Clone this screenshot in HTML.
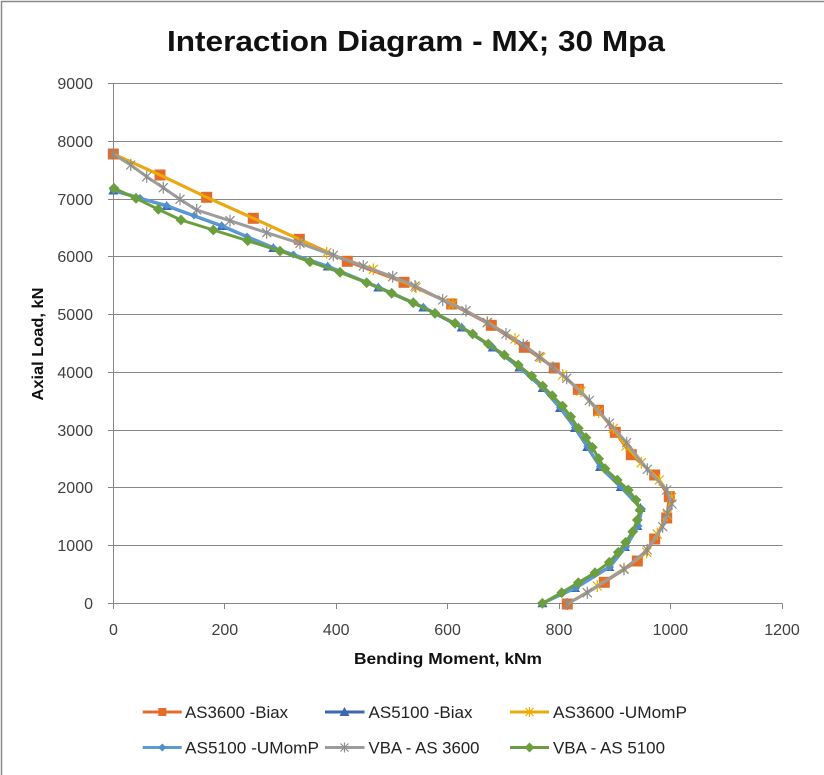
<!DOCTYPE html>
<html>
<head>
<meta charset="utf-8">
<style>
  html, body { margin:0; padding:0; background:#fff; }
  body { width:824px; height:775px; overflow:hidden; }
  svg { display:block; }
  text { font-family: "Liberation Sans", Arial, sans-serif; }
</style>
</head>
<body>
<svg width="824" height="775" viewBox="0 0 824 775" xmlns="http://www.w3.org/2000/svg">
  <defs>
    <marker id="mSq" markerUnits="userSpaceOnUse" markerWidth="12" markerHeight="12" viewBox="0 0 12 12" refX="6" refY="6">
      <rect x="0.5" y="0.5" width="11" height="11" fill="#E36C2B"/>
    </marker>
    <marker id="mTri" markerUnits="userSpaceOnUse" markerWidth="12" markerHeight="12" viewBox="0 0 12 12" refX="6" refY="6">
      <polygon points="6,1 11,10 1,10" fill="#3F66B0"/>
    </marker>
    <marker id="mStarG" markerUnits="userSpaceOnUse" markerWidth="14" markerHeight="14" viewBox="0 0 14 14" refX="7" refY="7">
      <path d="M2.5,2.5 L11.5,11.5 M11.5,2.5 L2.5,11.5 M7,1 L7,13" stroke="#EFAA00" stroke-width="1.2" fill="none"/>
    </marker>
    <marker id="mStarY" markerUnits="userSpaceOnUse" markerWidth="14" markerHeight="14" viewBox="0 0 14 14" refX="7" refY="7">
      <path d="M2.5,2.5 L11.5,11.5 M11.5,2.5 L2.5,11.5 M7,1 L7,13" stroke="#8C8C8C" stroke-width="1.2" fill="none"/>
    </marker>
    <marker id="mDiaB" markerUnits="userSpaceOnUse" markerWidth="12" markerHeight="12" viewBox="0 0 12 12" refX="6" refY="6">
      <polygon points="6,2 10,6 6,10 2,6" fill="#4F8FD0"/>
    </marker>
    <marker id="mDiaGr" markerUnits="userSpaceOnUse" markerWidth="12" markerHeight="12" viewBox="0 0 12 12" refX="6" refY="6">
      <polygon points="6,0.6 11.4,6 6,11.4 0.6,6" fill="#6A9E3F"/>
    </marker>
  </defs>

  <!-- border -->
  <rect x="1.5" y="1.5" width="840" height="800" fill="none" stroke="#8A8A8A" stroke-width="1.5"/>

  <!-- title -->
  <text x="416" y="51" text-anchor="middle" font-size="29" font-weight="bold" fill="#111" textLength="498" lengthAdjust="spacingAndGlyphs">Interaction Diagram - MX; 30 Mpa</text>

  <!-- gridlines -->
  <g stroke="#878787" stroke-width="1" fill="none">
    <line x1="108" y1="83.5" x2="782.5" y2="83.5"/>
    <line x1="108" y1="141.5" x2="782.5" y2="141.5"/>
    <line x1="108" y1="199.5" x2="782.5" y2="199.5"/>
    <line x1="108" y1="256.5" x2="782.5" y2="256.5"/>
    <line x1="108" y1="314.5" x2="782.5" y2="314.5"/>
    <line x1="108" y1="372.5" x2="782.5" y2="372.5"/>
    <line x1="108" y1="430.5" x2="782.5" y2="430.5"/>
    <line x1="108" y1="487.5" x2="782.5" y2="487.5"/>
    <line x1="108" y1="545.5" x2="782.5" y2="545.5"/>
    <line x1="108" y1="603.5" x2="782.5" y2="603.5"/>
    <line x1="113.5" y1="83.5" x2="113.5" y2="603.5"/>
    <line x1="113.5" y1="603.5" x2="113.5" y2="609"/>
    <line x1="224.5" y1="603.5" x2="224.5" y2="609"/>
    <line x1="336.5" y1="603.5" x2="336.5" y2="609"/>
    <line x1="447.5" y1="603.5" x2="447.5" y2="609"/>
    <line x1="559.5" y1="603.5" x2="559.5" y2="609"/>
    <line x1="670.5" y1="603.5" x2="670.5" y2="609"/>
    <line x1="782.5" y1="603.5" x2="782.5" y2="609"/>
  </g>

  <!-- y tick labels -->
  <g font-size="16" fill="#404040" text-anchor="end">
    <text x="93" y="89">9000</text>
    <text x="93" y="147">8000</text>
    <text x="93" y="205">7000</text>
    <text x="93" y="262">6000</text>
    <text x="93" y="320">5000</text>
    <text x="93" y="378">4000</text>
    <text x="93" y="436">3000</text>
    <text x="93" y="493">2000</text>
    <text x="93" y="551">1000</text>
    <text x="93" y="609">0</text>
  </g>

  <!-- x tick labels -->
  <g font-size="16" fill="#404040" text-anchor="middle">
    <text x="113.5" y="635">0</text>
    <text x="224.8" y="635">200</text>
    <text x="336.2" y="635">400</text>
    <text x="447.6" y="635">600</text>
    <text x="559" y="635">800</text>
    <text x="670.4" y="635">1000</text>
    <text x="782" y="635">1200</text>
  </g>

  <!-- axis titles -->
  <text x="354" y="664" font-size="16" font-weight="bold" fill="#111" textLength="188" lengthAdjust="spacingAndGlyphs">Bending Moment, kNm</text>
  <text transform="translate(43,344) rotate(-90)" x="0" y="0" text-anchor="middle" font-size="16" font-weight="bold" fill="#111" textLength="113" lengthAdjust="spacingAndGlyphs">Axial Load, kN</text>

  <!-- Series 1: AS3600 -Biax -->
  <polyline fill="none" stroke="#E36C2B" stroke-width="3" stroke-linejoin="round"
    marker-start="url(#mSq)" marker-mid="url(#mSq)" marker-end="url(#mSq)"
    points="113.3,154 160,175 206.7,197.3 253.3,218.3 299.3,239.3 347.3,261.3 404,282.3 451.7,304 491.3,325.3 524.3,347.3 554.3,368 578.3,389.3 598.5,410.3 615.3,432.3 631.3,454.7 654.7,475 669.3,496.7 666.7,518 654.7,539 637.3,561 604.3,582.3 567.3,604"/>

  <!-- Series 2: AS5100 -Biax -->
  <polyline fill="none" stroke="#3F66B0" stroke-width="3" stroke-linejoin="round"
    marker-start="url(#mTri)" marker-mid="url(#mTri)" marker-end="url(#mTri)"
    points="113.3,190.5 166.7,206 221.7,226 273.3,248 327.7,266.5 378.3,287.5 423.3,307.5 461.7,327.5 492.7,347.5 519.3,367.5 542.7,388 560,408 575,428 587.3,447 600,467 620.7,487 640.5,508 637.3,526 625,547 609.3,567 575,588 542.4,603.3"/>

  <!-- Series 3: AS3600 -UMomP -->
  <polyline fill="none" stroke="#EBAA0A" stroke-width="3" stroke-linejoin="round"
    points="113.3,154 160,175 206.7,197.3 253.3,218.3 299.3,239.3 326.7,252.7"/>
  <polyline fill="none" stroke="#EBAA0A" stroke-width="3" stroke-linejoin="round"
    marker-start="url(#mStarG)" marker-mid="url(#mStarG)" marker-end="url(#mStarG)"
    points="326.7,252.7 373.3,269.3 416,287.3 452.7,304 487.3,322.3 515,339 540.7,357.3 562.7,375 581,391.2 598.7,412 613.3,428.3 626,446 641.3,462.7 659.3,480 671.7,497.3 667.3,515 657.3,534 646.7,552.3 624,568.7 597.3,586 567.3,604"/>

  <!-- Series 4: AS5100 -UMomP -->
  <polyline fill="none" stroke="#5B9BD5" stroke-width="3" stroke-linejoin="round"
    marker-start="url(#mDiaB)" marker-mid="url(#mDiaB)" marker-end="url(#mDiaB)"
    points="113.3,190 140,198 166.7,205.5 194,215.5 221.7,225.5 247,236.5 273.3,247.5 293.3,254.5 327.7,266 378.3,287 423.3,307 461.7,327 492.7,347 519.3,367 542.7,387.5 560,407.5 575,427.5 587.3,446.5 600,466.5 620.7,486.5 642,509 638.5,526 626,547 610,567 576,588 542.4,603.3"/>

  <!-- Series 5: VBA - AS 3600 -->
  <polyline fill="none" stroke="#9C9C9C" stroke-width="3" stroke-linejoin="round"
    marker-start="url(#mStarY)" marker-mid="url(#mStarY)" marker-end="url(#mStarY)"
    points="113.3,154 130.7,165 146.7,176.7 163.3,187.7 180,199.3 196.7,210 230,220.7 266.7,232.7 300,243.3 333.3,255.3 363.3,266 392.7,276.7 415,286 442.7,300 466,310.7 487.3,322.7 506,334 523.3,344.7 539.3,356.7 553,367.5 566.7,378.3 589.3,400.5 609.3,423.3 626.7,442.7 647.3,469.3 666.7,490 672,504 667.3,513.3 662.7,526.7 647.3,550 624,569.3 587.3,592.7 567.3,604"/>

  <!-- Series 6: VBA - AS 5100 -->
  <polyline fill="none" stroke="#6A9E3F" stroke-width="3" stroke-linejoin="round"
    marker-start="url(#mDiaGr)" marker-mid="url(#mDiaGr)" marker-end="url(#mDiaGr)"
    points="114,188.3 136,198.3 158.3,209.3 181,220 213.3,230 247.7,240.7 280,251 310,261.7 340,272.3 366.7,282.7 391.7,293.3 413.3,302.7 435,313.3 455,323.3 472.7,334 488.3,344 504.3,355 518.3,365 531.7,376 542.7,386 552.3,395.7 562.5,406 570.7,416.7 578.3,428.3 586,437.7 592.3,447.3 598.7,458.7 605,468.7 617.3,480 628.3,490 636,500 640,510 637.3,520 632.7,531.7 625.7,542.3 618.3,552.3 609.3,562.3 595,572.7 578.3,582.7 561.7,592.7 542.4,603.3"/>

  <!-- Legend -->
  <g font-size="17" fill="#222">
    <line x1="142.7" y1="712" x2="181.7" y2="712" stroke="#E36C2B" stroke-width="3"/>
    <rect x="158.3" y="708" width="8" height="8" fill="#E36C2B"/>
    <text x="185" y="718" textLength="103" lengthAdjust="spacingAndGlyphs">AS3600 -Biax</text>

    <line x1="325" y1="712" x2="364.5" y2="712" stroke="#3F66B0" stroke-width="3"/>
    <polygon points="344.5,707 349.5,716 339.5,716" fill="#3F66B0"/>
    <text x="368.5" y="718" textLength="104" lengthAdjust="spacingAndGlyphs">AS5100 -Biax</text>

    <line x1="510" y1="712" x2="549" y2="712" stroke="#EBAA0A" stroke-width="3"/>
    <path d="M525.5,708 L533.5,716 M533.5,708 L525.5,716 M529.5,707 L529.5,717" stroke="#EFAA00" stroke-width="1.2"/>
    <text x="553" y="718" textLength="134" lengthAdjust="spacingAndGlyphs">AS3600 -UMomP</text>

    <line x1="142.7" y1="747.5" x2="181.7" y2="747.5" stroke="#5B9BD5" stroke-width="3"/>
    <polygon points="162.3,743.5 166.3,747.5 162.3,751.5 158.3,747.5" fill="#4F8FD0"/>
    <text x="185" y="753.5" textLength="134" lengthAdjust="spacingAndGlyphs">AS5100 -UMomP</text>

    <line x1="325" y1="747.5" x2="364.5" y2="747.5" stroke="#9C9C9C" stroke-width="3"/>
    <path d="M340.5,743.5 L348.5,751.5 M348.5,743.5 L340.5,751.5 M344.5,742.5 L344.5,752.5" stroke="#8C8C8C" stroke-width="1.2"/>
    <text x="368.5" y="753.5" textLength="111" lengthAdjust="spacingAndGlyphs">VBA - AS 3600</text>

    <line x1="510" y1="747.5" x2="549" y2="747.5" stroke="#6A9E3F" stroke-width="3"/>
    <polygon points="529.5,742.5 534.5,747.5 529.5,752.5 524.5,747.5" fill="#6A9E3F"/>
    <text x="553" y="753.5" textLength="112" lengthAdjust="spacingAndGlyphs">VBA - AS 5100</text>
  </g>
</svg>
</body>
</html>
